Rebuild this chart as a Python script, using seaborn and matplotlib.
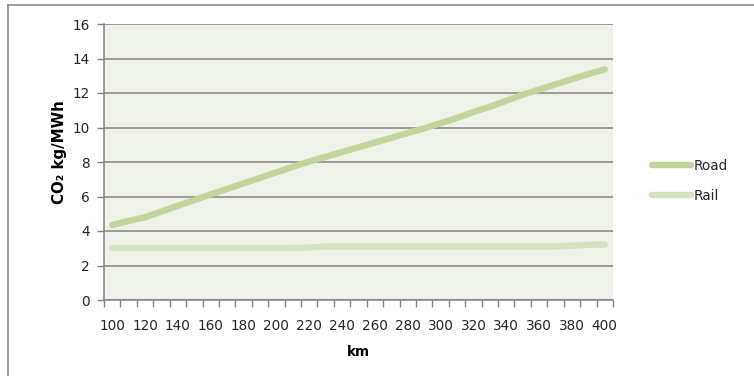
import numpy as np
import pandas as pd
import seaborn as sns
import matplotlib
matplotlib.use("Agg")
import matplotlib.pyplot as plt
from matplotlib.lines import Line2D
from matplotlib.ticker import MultipleLocator, FixedLocator

# Transport distance (km) and emissions per MWh for each mode
km = [100, 110, 120, 130, 140, 150, 160, 170, 180, 190, 200, 210, 220, 230, 240, 250,
      260, 270, 280, 290, 300, 310, 320, 330, 340, 350, 360, 370, 380, 390, 400]
road = [4.35, 4.58, 4.80, 5.13, 5.46, 5.79, 6.12, 6.44, 6.76, 7.08, 7.40, 7.72, 8.03, 8.30,
        8.58, 8.85, 9.13, 9.40, 9.68, 9.95, 10.25, 10.55, 10.90, 11.20, 11.55, 11.90, 12.20,
        12.50, 12.80, 13.10, 13.37]
rail = [3.02, 3.02, 3.02, 3.02, 3.02, 3.02, 3.02, 3.02, 3.02, 3.02, 3.02, 3.02, 3.04, 3.10,
        3.10, 3.10, 3.10, 3.10, 3.10, 3.10, 3.10, 3.10, 3.10, 3.10, 3.10, 3.10, 3.10, 3.11,
        3.15, 3.20, 3.21]
series_names = ["Road", "Rail"]
x_labels = list(range(100, 401, 20))
y_ticks = list(range(0, 17, 2))

df = pd.DataFrame({
    "km": km * 2,
    "value": road + rail,
    "mode": [series_names[0]] * len(km) + [series_names[1]] * len(km),
})

plt.rcParams["font.family"] = ["DejaVu Sans"]
W, H = 754, 376
fig = plt.figure(figsize=(W / 100, H / 100), dpi=100)
ax = fig.add_axes([104 / W, 1 - 300 / H, (613 - 104) / W, (300 - 24) / H])

palette = {"Road": "#C1D59D", "Rail": "#D5E2C0"}
sns.lineplot(data=df, x="km", y="value", hue="mode", palette=palette,
             linewidth=4.6, ax=ax, solid_capstyle="round", legend=True)

ax.set_facecolor("#EEF2E8")
ax.set_xlim(95, 405)
ax.set_ylim(0, 16)

grid_c = "#858585"
ax.set_yticks(y_ticks)
ax.yaxis.grid(True, color=grid_c, linewidth=1.1)
ax.xaxis.grid(False)
ax.set_axisbelow(True)

ax.xaxis.set_major_locator(FixedLocator(x_labels))
ax.xaxis.set_minor_locator(MultipleLocator(10, offset=5))
ax.tick_params(axis="x", which="major", length=0, pad=14, labelsize=9.8, labelcolor="#262626")
ax.tick_params(axis="x", which="minor", length=5, width=1, color=grid_c)
ax.tick_params(axis="y", length=5, width=1, color=grid_c, labelsize=9.8, labelcolor="#262626", pad=5)

for side in ["top", "right"]:
    ax.spines[side].set_visible(False)
for side in ["left", "bottom"]:
    ax.spines[side].set_color(grid_c)
    ax.spines[side].set_linewidth(1.1)

ax.set_xlabel("km", fontsize=9.8, fontweight="bold", labelpad=8)
ax.set_ylabel("CO\u2082 kg/MWh", fontsize=10.8, fontweight="bold")
ax.yaxis.set_label_coords(-0.073, 0.535)

leg = ax.legend(loc="center left", bbox_to_anchor=(652 / W, 1 - 181 / H),
                bbox_transform=fig.transFigure, frameon=False, fontsize=9.8,
                handlelength=2.9, handletextpad=0.15, labelspacing=1.2, borderaxespad=0,
                borderpad=0)
for t in leg.get_texts():
    t.set_color("#262626")
for h in leg.get_lines():
    h.set_linewidth(4.6)
    h.set_solid_capstyle("round")

# chart area frame (left and top edges)
fig.add_artist(Line2D([8 / W, 8 / W], [0, 1 - 5 / H], transform=fig.transFigure,
                      color="#8C8C8C", linewidth=1.2))
fig.add_artist(Line2D([8 / W, 1], [1 - 5 / H, 1 - 5 / H], transform=fig.transFigure,
                      color="#8C8C8C", linewidth=1.2))

fig.savefig("out.png", dpi=100)
